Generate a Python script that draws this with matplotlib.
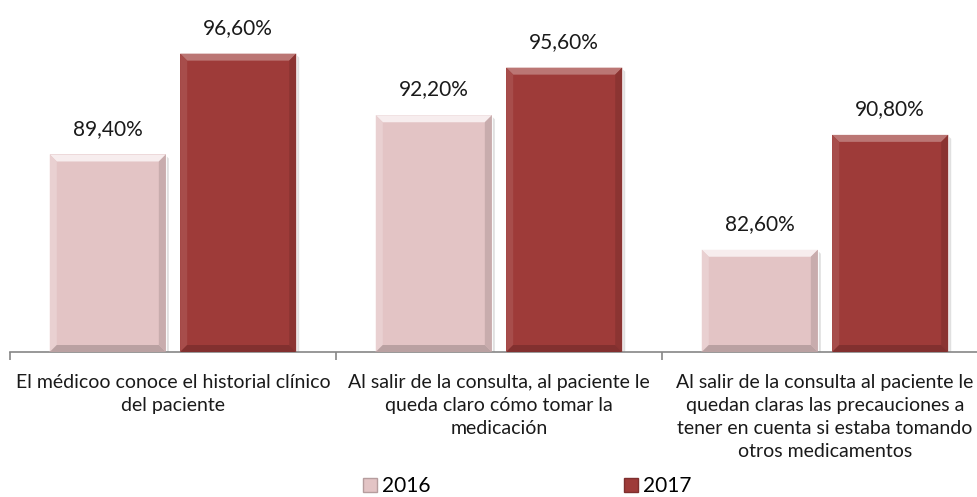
import matplotlib.pyplot as plt
import numpy as np
from matplotlib.patches import Polygon, Patch
from matplotlib.colors import to_rgb

categories = ['El médicoo conoce el historial clínico\ndel paciente',
              'Al salir de la consulta, al paciente le\nqueda claro cómo tomar la\nmedicación',
              'Al salir de la consulta al paciente le\nquedan claras las precauciones a\ntener en cuenta si estaba tomando\notros medicamentos']
years = ['2016', '2017']
v2016 = [89.4, 92.2, 82.6]
v2017 = [96.6, 95.6, 90.8]
colors = ['#E3C4C5', '#9E3B39']

plt.rcParams['font.family'] = ['Lato', 'DejaVu Sans']

W, H = 978, 497
fig = plt.figure(figsize=(W / 100, H / 100), dpi=100)
ax = fig.add_axes([10 / W, (H - 352) / H, 968 / W, 346 / H])

x = np.arange(len(categories))
for s in ['top', 'left', 'right']:
    ax.spines[s].set_visible(False)
ax.spines['bottom'].set_color('#868686')
ax.spines['bottom'].set_linewidth(1.2)
ax.set_yticks([])
ax.set_xticks(x)
ax.set_xticklabels(categories, fontsize=14, color='#1a1a1a', linespacing=1.42)
ax.tick_params(axis='x', which='major', length=0, pad=16)
ax.set_xticks([-0.5, 0.5, 1.5], minor=True)
ax.tick_params(axis='x', which='minor', length=6, color='#868686', width=1.2)

bw = 0.356
bars16 = ax.bar(x - 0.2, v2016, bw, color=colors[0], zorder=2)
bars17 = ax.bar(x + 0.2, v2017, bw, color=colors[1], zorder=2)
ax.set_xlim(-0.5, 2.5 - 10 / 326)
ax.set_ylim(75.3, 100)


def mix(c, t, amt):
    c = np.array(to_rgb(c))
    return tuple(c + (np.array(to_rgb(t)) - c) * amt)


def bevel(bar, color, light):
    # bevel edges drawn from the bar's own geometry, in pixel offsets
    inv = ax.transData.inverted()
    x0, x1 = bar.get_x(), bar.get_x() + bar.get_width()
    y1 = bar.get_height()
    y0 = ax.get_ylim()[0]
    p0 = ax.transData.transform((x0, y0))
    p1 = ax.transData.transform((x1, y1))
    b = 7
    pts = {
        'top': [(p0[0], p1[1]), (p1[0], p1[1]), (p1[0] - b, p1[1] - b), (p0[0] + b, p1[1] - b)],
        'left': [(p0[0], p0[1]), (p0[0], p1[1]), (p0[0] + b, p1[1] - b), (p0[0] + b, p0[1] + b)],
        'right': [(p1[0], p0[1]), (p1[0], p1[1]), (p1[0] - b, p1[1] - b), (p1[0] - b, p0[1] + b)],
        'bottom': [(p0[0], p0[1]), (p1[0], p0[1]), (p1[0] - b, p0[1] + b), (p0[0] + b, p0[1] + b)],
    }
    shades = {'top': mix(color, 'white', light), 'left': mix(color, 'white', light * 0.3),
              'right': mix(color, 'black', 0.12), 'bottom': mix(color, 'black', 0.18)}
    for k, p in pts.items():
        ax.add_patch(Polygon(inv.transform(p), closed=True, facecolor=shades[k],
                             edgecolor='none', zorder=3))
    ax.add_patch(Polygon(inv.transform([(p1[0] + 1, p1[1] - 2), (p1[0] + 3, p1[1] - 4),
                                        (p1[0] + 3, p0[1]), (p1[0] + 1, p0[1])]),
                         closed=True, facecolor=(0, 0, 0, 0.12), edgecolor='none', zorder=1))


for b in bars16:
    bevel(b, colors[0], 0.7)
for b in bars17:
    bevel(b, colors[1], 0.3)

for bars, vals in ((bars16, v2016), (bars17, v2017)):
    for b, v in zip(bars, vals):
        ax.annotate(f'{v:.2f}%'.replace('.', ','), (b.get_x() + b.get_width() / 2, v),
                    xytext=(0, 18.5), textcoords='offset points', ha='center', va='center',
                    fontsize=15, color='#1a1a1a')

handles = [Patch(facecolor=c, edgecolor=mix(c, 'black', 0.2)) for c in colors]
fig.legend(handles, years, loc='lower left', bbox_to_anchor=(348 / W, -0.028), ncol=2,
           frameon=False, fontsize=15, handlelength=0.7, handleheight=0.7,
           handletextpad=0.25, columnspacing=9.25, borderpad=0.2)

fig.savefig('out.png', dpi=100)
